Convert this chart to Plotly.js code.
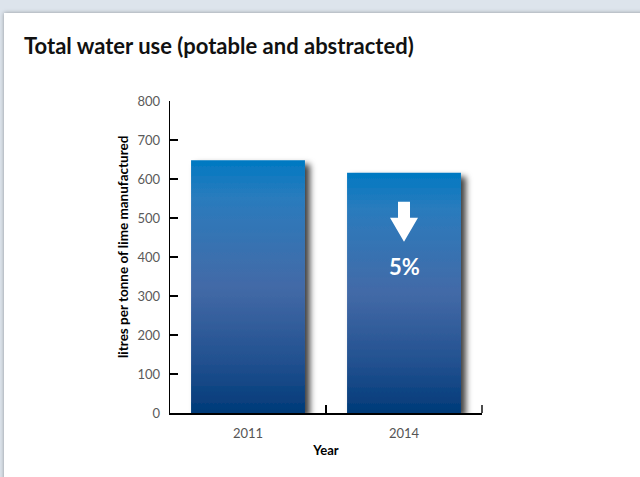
<!DOCTYPE html>
<html><head><meta charset="utf-8">
<script src="https://cdn.plot.ly/plotly-3.0.1.min.js"></script>
<style>
html,body{margin:0;padding:0;background:#dde4ec;width:640px;height:477px;overflow:hidden}
#panel{position:absolute;left:4px;top:13px;width:640px;height:470px;background:#fff;box-shadow:0 0 4px rgba(0,0,0,0.35)}
#chart{position:absolute;left:0;top:0;width:640px;height:477px}
</style></head><body>
<div id="panel"></div><div id="chart"></div>
<script>
const years = ['2011', '2014'];
const waterUse = [648, 616];
const yTickVals = [0, 100, 200, 300, 400, 500, 600, 700, 800];
const changeLabel = '5%';
const chartTitle = 'Total water use (potable and abstracted)';
const yTitle = 'litres per tonne of lime manufactured';
const xTitle = 'Year';

const FONT = 'Lato, "Noto Sans", sans-serif';

const trace = {
  type: 'bar', x: years, y: waterUse,
  marker: {color: '#2f64a6', line: {width: 0}},
  cliponaxis: false, hoverinfo: 'none'
};

const layout = {
  width: 640, height: 477,
  paper_bgcolor: 'rgba(0,0,0,0)', plot_bgcolor: 'rgba(0,0,0,0)',
  margin: {l: 170, r: 158, t: 101, b: 64, pad: 0},
  bargap: 0.27,
  showlegend: false,
  font: {family: FONT},
  title: {text: '<b>' + chartTitle + '</b>', xref: 'container', yref: 'container',
    x: 24/640, xanchor: 'left', y: 1 - 46/477, yanchor: 'middle',
    font: {family: FONT, size: 22, color: '#111'}},
  xaxis: {type: 'category', range: [-0.5, 1.5], showline: true, linecolor: '#000', linewidth: 1.5,
    ticks: 'inside', tickson: 'boundaries', ticklen: 8, tickcolor: '#000', tickwidth: 1.4,
    showgrid: false, zeroline: false, tickfont: {family: FONT, size: 13, color: '#555'},
    ticklabelstandoff: 8,
    title: {text: '<b>' + xTitle + '</b>', font: {family: FONT, size: 13, color: '#000'}, standoff: 6}},
  yaxis: {range: [0, 800], tickvals: yTickVals, showline: true, linecolor: '#000', linewidth: 1.3,
    ticks: 'inside', ticklen: 8, tickcolor: '#000', tickwidth: 1.3, showgrid: false, zeroline: false,
    ticklabelstandoff: 6,
    tickfont: {family: FONT, size: 13, color: '#5a5a5a'}},
  annotations: [
    {text: '<b>' + yTitle + '</b>', xref: 'paper', yref: 'paper', x: 0, y: 0.5, xshift: -47, yshift: 10,
     xanchor: 'center', yanchor: 'middle',
     textangle: -90, showarrow: false, font: {family: FONT, size: 13.5, color: '#000'}},
    {text: '<b>' + changeLabel + '</b>', xref: 'x', yref: 'y', x: 1, y: waterUse[1], yshift: -94,
     showarrow: false, font: {family: FONT, size: 22, color: '#fff'}}
  ],
  shapes: [
    {type: 'path', xref: 'x', yref: 'y', xsizemode: 'pixel', ysizemode: 'pixel',
     xanchor: 1, yanchor: waterUse[1],
     path: 'M -6,-29 L 6,-29 L 6,-45 L 14,-45 L 0,-69 L -14,-45 L -6,-45 Z',
     fillcolor: '#fff', line: {width: 0}, layer: 'above'},
    {type: 'line', xref: 'paper', yref: 'y', ysizemode: 'pixel', yanchor: 0,
     x0: 1, x1: 1, y0: 0, y1: 8, line: {color: '#000', width: 1.4}, layer: 'above'}
  ]
};

Plotly.newPlot('chart', [trace], layout, {staticPlot: true}).then(function () {
  const svg = document.querySelector('#chart svg.main-svg');
  const NS = 'http://www.w3.org/2000/svg';
  let defs = svg.querySelector('defs');
  if (!defs) { defs = document.createElementNS(NS, 'defs'); svg.insertBefore(defs, svg.firstChild); }
  const g = document.createElementNS(NS, 'linearGradient');
  g.setAttribute('id', 'barGrad'); g.setAttribute('x1', '0'); g.setAttribute('y1', '0');
  g.setAttribute('x2', '0'); g.setAttribute('y2', '1');
  [['0', '#0079c2'], ['0.15', '#2a7bbd'], ['0.5', '#436aa7'], ['0.8', '#21508f'], ['1', '#003a78']].forEach(function (s) {
    const st = document.createElementNS(NS, 'stop');
    st.setAttribute('offset', s[0]); st.setAttribute('stop-color', s[1]); g.appendChild(st);
  });
  defs.appendChild(g);
  const f = document.createElementNS(NS, 'filter');
  f.setAttribute('id', 'barShadow'); f.setAttribute('x', '-20%'); f.setAttribute('y', '-20%');
  f.setAttribute('width', '150%'); f.setAttribute('height', '150%');
  const ds = document.createElementNS(NS, 'feDropShadow');
  ds.setAttribute('dx', '5'); ds.setAttribute('dy', '4'); ds.setAttribute('stdDeviation', '3');
  ds.setAttribute('flood-color', '#000'); ds.setAttribute('flood-opacity', '0.75');
  f.appendChild(ds); defs.appendChild(f);
  document.querySelectorAll('#chart .barlayer .point path').forEach(function (p) {
    p.style.fill = 'url(#barGrad)';
    p.setAttribute('filter', 'url(#barShadow)');
  });
});
</script>
</body></html>
